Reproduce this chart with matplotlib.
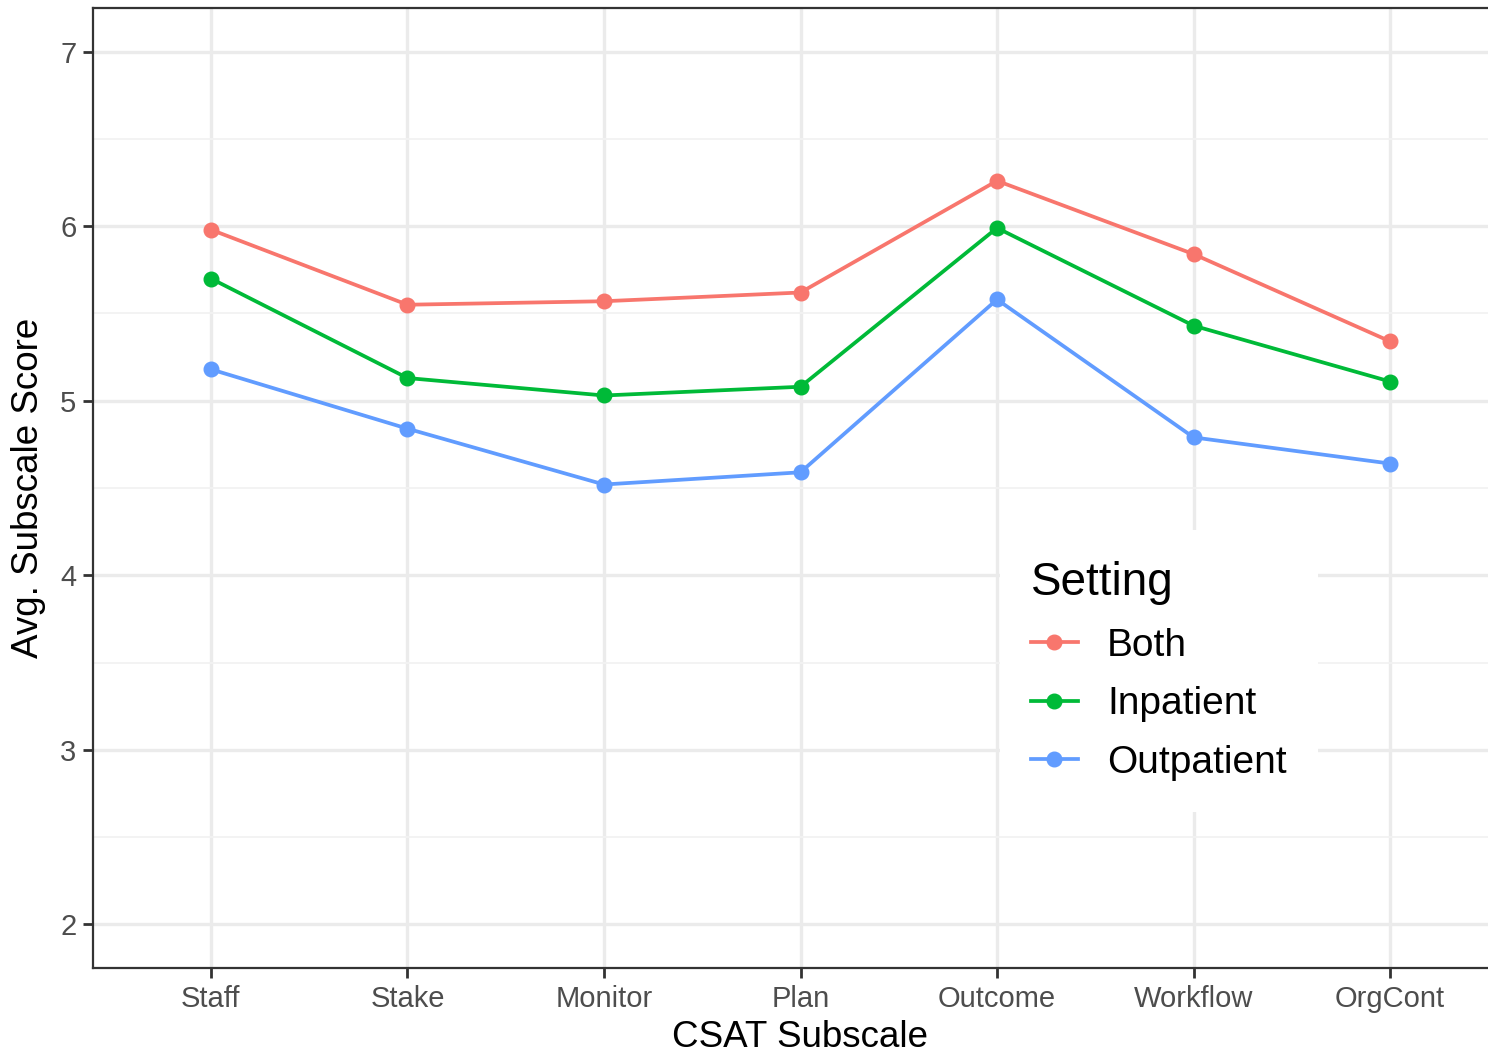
import numpy as np
import matplotlib.pyplot as plt
from matplotlib.ticker import MultipleLocator

plt.rcParams['font.family'] = ['Liberation Sans', 'DejaVu Sans']

# Datos
subscales = ['Staff', 'Stake', 'Monitor', 'Plan', 'Outcome', 'Workflow', 'OrgCont']
both = [5.98, 5.55, 5.57, 5.62, 6.26, 5.84, 5.34]
inpatient = [5.70, 5.13, 5.03, 5.08, 5.99, 5.43, 5.11]
outpatient = [5.18, 4.84, 4.52, 4.59, 5.58, 4.79, 4.64]
settings = ['Both', 'Inpatient', 'Outpatient']
colors = ['#F8766D', '#00BA38', '#619CFF']

fig = plt.figure(figsize=(14.88, 10.57), dpi=100)
# el panel se sale por la derecha, como en la imagen original
ax = fig.add_axes([93 / 1488, 1 - 968 / 1057, 1415 / 1488, 960 / 1057])

x = np.arange(len(subscales))
for vals, name, col in zip([both, inpatient, outpatient], settings, colors):
    ax.plot(x, vals, color=col, lw=2.7, marker='o', ms=10.5, label=name, zorder=3)

ax.set_xlim(-0.6, len(subscales) - 1 + 0.6)
ax.set_ylim(1.75, 7.25)
ax.set_xticks(x)
ax.set_xticklabels(subscales)
ax.yaxis.set_major_locator(MultipleLocator(1))
ax.yaxis.set_minor_locator(MultipleLocator(0.5))

ax.grid(which='major', color='#EBEBEB', lw=2.4, zorder=0)
ax.grid(which='minor', axis='y', color='#F2F2F2', lw=1.3, zorder=0)
ax.set_axisbelow(True)

for s in ax.spines.values():
    s.set_color('#333333')
    s.set_linewidth(1.6)
ax.spines['right'].set_visible(False)

ax.tick_params(which='major', length=7, width=2, color='#333333',
               labelsize=21, labelcolor='#4D4D4D', pad=5)
ax.tick_params(which='minor', length=0)

ax.set_xlabel('CSAT Subscale', fontsize=26.5, color='black', labelpad=5)
ax.set_ylabel('Avg. Subscale Score', fontsize=26.5, color='black', labelpad=10)

leg = ax.legend(title='Setting', loc='upper left', bbox_to_anchor=(1000 / 1488, 1 - 530 / 1057),
                bbox_transform=fig.transFigure, frameon=True, fontsize=28, title_fontsize=33,
                handlelength=1.2, handletextpad=0.75, labelspacing=0.58, borderpad=0.8,
                borderaxespad=0)
leg.get_frame().set_facecolor('white')
leg.get_frame().set_edgecolor('none')
leg.get_frame().set_alpha(1)
leg._legend_box.align = 'left'

fig.savefig('out.png', dpi=100)
